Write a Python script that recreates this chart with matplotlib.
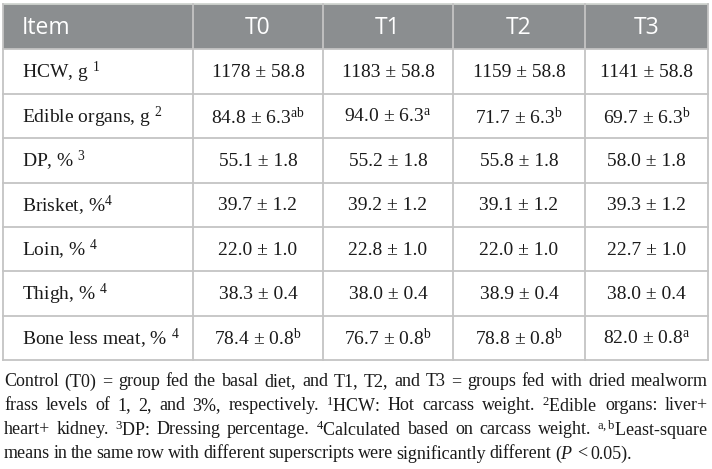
import matplotlib
matplotlib.use("Agg")
import matplotlib.pyplot as plt
from matplotlib.patches import Rectangle

plt.rcParams['mathtext.fontset'] = 'custom'
plt.rcParams['mathtext.rm'] = 'Liberation Serif'
plt.rcParams['mathtext.it'] = 'Liberation Serif:italic'
plt.rcParams['mathtext.bf'] = 'Liberation Serif:bold'

# table data
headers = ["Item", "T0", "T1", "T2", "T3"]
items = ["HCW, g ", "Edible organs, g ", "DP, % ", "Brisket, %", "Loin, % ", "Thigh, % ", "Bone less meat, % "]
item_notes = ["1", "2", "3", "4", "4", "4", "4"]
t0 = [1178, 84.8, 55.1, 39.7, 22.0, 38.3, 78.4]
t1 = [1183, 94.0, 55.2, 39.2, 22.8, 38.0, 76.7]
t2 = [1159, 71.7, 55.8, 39.1, 22.0, 38.9, 78.8]
t3 = [1141, 69.7, 58.0, 39.3, 22.7, 38.0, 82.0]
sem = [58.8, 6.3, 1.8, 1.2, 1.0, 0.4, 0.8]
sups = [["", "", "", ""],
        ["ab", "a", "b", "b"],
        ["", "", "", ""],
        ["", "", "", ""],
        ["", "", "", ""],
        ["", "", "", ""],
        ["b", "b", "b", "a"]]
decimals = [0, 1, 1, 1, 1, 1, 1]

footnote = [
    "Control (T0) = group fed the basal diet, and T1, T2, and T3 = groups fed with dried mealworm",
    "frass levels of 1, 2, and 3%, respectively. $^{1}$HCW: Hot carcass weight. $^{2}$Edible organs: liver+",
    "heart+ kidney. $^{3}$DP: Dressing percentage. $^{4}$Calculated based on carcass weight. $^{\\mathrm{a,b}}$Least-square",
    "means in the same row with different superscripts were significantly different ($\\mathit{P}$ < 0.05).",
]

W, H = 712, 469
fig = plt.figure(figsize=(W / 100, H / 100), dpi=100)
ax = fig.add_axes([0, 0, 1, 1])
ax.set_xlim(0, W)
ax.set_ylim(H, 0)
ax.axis('off')

col_x = [3, 193, 323, 453, 585, 708]
top, head_bot, bottom = 4, 49.5, 360
row_h = (bottom - head_bot) / len(items)
line_c = '#c4c4c4'
head_c = '#8b8e90'

ax.add_patch(Rectangle((col_x[0], top), col_x[-1] - col_x[0], head_bot - top,
                       facecolor=head_c, edgecolor='none', zorder=1))

# grid lines
for i in range(len(items) + 1):
    y = head_bot + i * row_h
    ax.plot([col_x[0], col_x[-1]], [y, y], color=line_c, lw=1.3, zorder=2)
ax.plot([col_x[0], col_x[-1]], [top, top], color='#d0d4d0', lw=1.3, zorder=2)
for x in col_x:
    ax.plot([x, x], [top, bottom], color=line_c, lw=1.3, zorder=2)

# header
hy = (top + head_bot) / 2 + 1
ax.text(22, hy, headers[0], color='white', fontsize=16.5, family='Open Sans',
        ha='left', va='center', zorder=3)
for j in range(1, 5):
    ax.text((col_x[j] + col_x[j + 1]) / 2, hy, headers[j], color='white', fontsize=16.5,
            family='Open Sans', ha='center', va='center', zorder=3)

# body
groups = [t0, t1, t2, t3]
for i, item in enumerate(items):
    yc = head_bot + (i + 0.5) * row_h + 1
    ax.text(22, yc, item + "$^{" + item_notes[i] + "}$", fontsize=14,
            family='Liberation Serif', color='#1a1a1a', ha='left', va='center', zorder=3)
    for j, g in enumerate(groups):
        s = f"{g[i]:.{decimals[i]}f} \u00b1 {sem[i]}"
        if sups[i][j]:
            s += "$^{\\mathrm{" + sups[i][j] + "}}$"
        ax.text((col_x[j + 1] + col_x[j + 2]) / 2, yc, s, fontsize=14,
                family='Liberation Serif', color='#1a1a1a', ha='center', va='center', zorder=3)

# footnote, justified word by word
fig.canvas.draw()
renderer = fig.canvas.get_renderer()
inv = ax.transData.inverted()
fx0, fx1 = 4, 708
fy = [382, 406, 430, 454]
for k, line in enumerate(footnote):
    words = line.split(" ")
    arts = [ax.text(0, fy[k], w, fontsize=13, family='Liberation Serif', color='#1a1a1a',
                    ha='left', va='center') for w in words]
    widths = []
    for a in arts:
        bb = a.get_window_extent(renderer)
        p0 = inv.transform((bb.x0, bb.y0))
        p1 = inv.transform((bb.x1, bb.y0))
        widths.append(p1[0] - p0[0])
    if k < len(footnote) - 1:
        gap = (fx1 - fx0 - sum(widths)) / (len(words) - 1)
    else:
        gap = 3.4
    x = fx0
    for a, w in zip(arts, widths):
        a.set_x(x)
        x += w + gap

fig.savefig("out.png", dpi=100)
